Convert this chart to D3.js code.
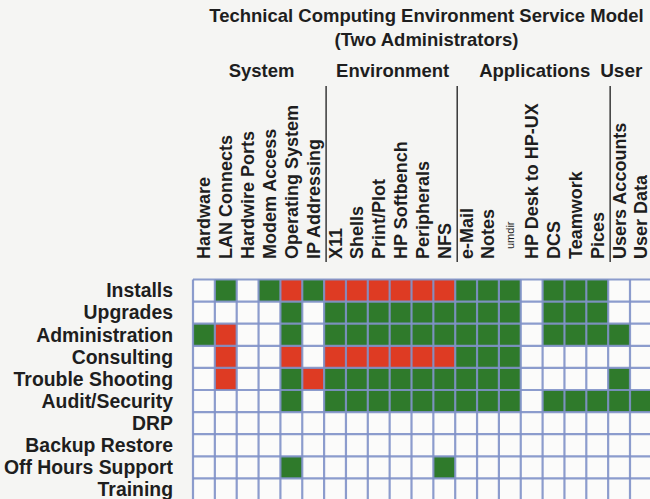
<!DOCTYPE html>
<html>
<head>
<meta charset="utf-8">
<script src="https://cdn.jsdelivr.net/npm/d3@7"></script>
<style>
  html, body { margin: 0; padding: 0; background: #f5f5f3; }
  svg { display: block; }
  text { font-family: "Liberation Sans", Arial, Helvetica, sans-serif; fill: #1e1e1e; }
</style>
</head>
<body>
<svg id="chart" width="650" height="499"></svg>
<script>
const title = "Technical Computing Environment Service Model";
const subtitle = "(Two Administrators)";

const columns = ["Hardware", "LAN Connects", "Hardwire Ports", "Modem Access", "Operating System", "IP Addressing",
  "X11", "Shells", "Print/Plot", "HP Softbench", "Peripherals", "NFS",
  "e-Mail", "Notes", "umdir", "HP Desk to HP-UX", "DCS", "Teamwork", "Pices",
  "Users Accounts", "User Data"];

const groups = ["System", "Environment", "Applications", "User"];
const groupStart = [0, 6, 12, 19];   // first column index of each group

const rows = ["Installs", "Upgrades", "Administration", "Consulting", "Trouble Shooting",
  "Audit/Security", "DRP", "Backup Restore", "Off Hours Support", "Training"];

// 0 = none, 1 = green, 2 = red
const installs      = [0,1,0,1,2,1,2,2,2,2,2,2,1,1,1,0,1,1,1,0,0];
const upgrades      = [0,0,0,0,1,0,1,1,1,1,1,1,1,1,1,0,1,1,1,0,0];
const administration= [1,2,0,0,1,0,1,1,1,1,1,1,1,1,1,0,1,1,1,1,0];
const consulting    = [0,2,0,0,2,0,2,2,2,2,2,2,1,1,1,0,0,0,0,0,0];
const troubleShoot  = [0,2,0,0,1,2,1,1,1,1,1,1,1,1,1,0,0,0,0,1,0];
const auditSecurity = [0,0,0,0,1,0,1,1,1,1,1,1,1,1,1,0,1,1,1,1,1];
const drp           = [0,0,0,0,0,0,0,0,0,0,0,0,0,0,0,0,0,0,0,0,0];
const backupRestore = [0,0,0,0,0,0,0,0,0,0,0,0,0,0,0,0,0,0,0,0,0];
const offHours      = [0,0,0,0,1,0,0,0,0,0,0,1,0,0,0,0,0,0,0,0,0];
const training      = [0,0,0,0,0,0,0,0,0,0,0,0,0,0,0,0,0,0,0,0,0];

const matrix = [installs, upgrades, administration, consulting, troubleShoot,
  auditSecurity, drp, backupRestore, offHours, training];

const levelColors = ["#fbfbfa", "#2f7a2b", "#de3b23"];

const svg = d3.select("#chart");

const gridLeft = 193, colW = 21.85, gridTop = 279.5, rowH = 22.1;
const x = d3.scaleBand().domain(columns).range([gridLeft, gridLeft + colW * columns.length]).padding(0);
const y = d3.scaleBand().domain(rows).range([gridTop, gridTop + rowH * rows.length]).padding(0);

// Title
svg.append("text").attr("x", 426.5).attr("y", 22).attr("text-anchor", "middle")
  .style("font-size", "18.5px").style("font-weight", "bold").text(title);
svg.append("text").attr("x", 426.5).attr("y", 46).attr("text-anchor", "middle")
  .style("font-size", "18.5px").style("font-weight", "bold").text(subtitle);

// Group headers
const groupEnd = groupStart.slice(1).concat([columns.length]);
groups.forEach((g, i) => {
  const x0 = x(columns[groupStart[i]]);
  const x1 = groupEnd[i] < columns.length ? x(columns[groupEnd[i]]) : x.range()[1];
  const t = svg.append("text").attr("y", 77)
    .style("font-size", "18.5px").style("font-weight", "bold").text(g);
  if (i === groups.length - 1) {
    t.attr("x", x0 - 8).attr("text-anchor", "start").style("font-size", "19px");
  } else {
    t.attr("x", (x0 + x1) / 2 + 3).attr("text-anchor", "middle");
  }
});

// Group separators
groupStart.slice(1).forEach(gi => {
  const sx = x(columns[gi]) + 2;
  svg.append("line").attr("x1", sx).attr("x2", sx).attr("y1", 86).attr("y2", 262)
    .attr("stroke", "#2a2a2a").attr("stroke-width", 1.4);
});

// Column labels
svg.append("g").selectAll("text").data(columns).join("text")
  .attr("transform", d => {
    const cx = x(d) + x.bandwidth() / 2 + (d === "umdir" ? 4 : 6.5);
    const by = d === "umdir" ? 249 : 259;
    return `translate(${cx},${by}) rotate(-90)`;
  })
  .attr("text-anchor", "start")
  .style("font-size", d => d === "umdir" ? "11px" : "18px")
  .style("font-weight", d => d === "umdir" ? "normal" : "bold")
  .text(d => d);

// Row labels
svg.append("g").selectAll("text").data(rows).join("text")
  .attr("x", 173)
  .attr("y", d => y(d) + y.bandwidth() / 2 + 6.8)
  .attr("text-anchor", "end")
  .style("font-size", "19.4px").style("font-weight", "bold")
  .text(d => d);

// Cells
const cells = [];
matrix.forEach((vals, ri) => vals.forEach((v, ci) => cells.push({ row: rows[ri], col: columns[ci], v })));

svg.append("g").selectAll("rect").data(cells).join("rect")
  .attr("x", d => x(d.col))
  .attr("y", d => y(d.row))
  .attr("width", x.bandwidth())
  .attr("height", y.bandwidth())
  .attr("fill", d => levelColors[d.v]);

// Grid lines
const grid = svg.append("g").attr("stroke", "#7f91c8").attr("stroke-width", 2.2).attr("stroke-opacity", 0.9);
const colEdges = columns.map(c => x(c)).concat([x.range()[1]]);
const rowEdges = rows.map(r => y(r)).concat([y.range()[1]]);
grid.selectAll("line.v").data(colEdges).join("line").attr("class", "v")
  .attr("x1", d => d).attr("x2", d => d).attr("y1", y.range()[0]).attr("y2", y.range()[1]);
grid.selectAll("line.h").data(rowEdges).join("line").attr("class", "h")
  .attr("x1", x.range()[0]).attr("x2", x.range()[1]).attr("y1", d => d).attr("y2", d => d);
</script>
</body>
</html>
